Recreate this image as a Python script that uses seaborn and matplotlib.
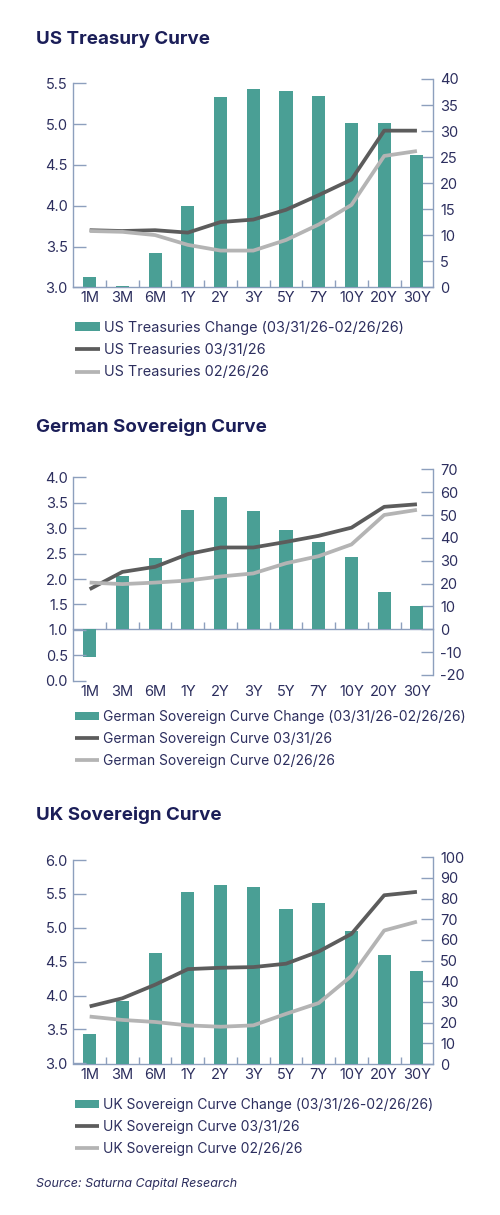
import numpy as np
import pandas as pd
import matplotlib
matplotlib.use("Agg")
import matplotlib.pyplot as plt
import seaborn as sns

# ---------------- data ----------------
tenors = ["1M", "3M", "6M", "1Y", "2Y", "3Y", "5Y", "7Y", "10Y", "20Y", "30Y"]

us_change = [2.0, 0.3, 6.6, 15.6, 36.6, 38.0, 37.6, 36.8, 31.5, 31.6, 25.5]
us_now = [3.70, 3.69, 3.70, 3.67, 3.80, 3.83, 3.95, 4.13, 4.32, 4.92, 4.92]
us_prev = [3.69, 3.68, 3.64, 3.52, 3.45, 3.45, 3.58, 3.77, 4.01, 4.61, 4.67]

de_change = [-12.3, 23.5, 31.2, 52.4, 57.9, 51.8, 43.3, 38.2, 31.5, 16.5, 10.4]
de_now = [1.80, 2.14, 2.24, 2.49, 2.62, 2.62, 2.73, 2.85, 3.01, 3.42, 3.47]
de_prev = [1.93, 1.90, 1.93, 1.97, 2.05, 2.11, 2.31, 2.45, 2.68, 3.26, 3.36]

uk_change = [14.5, 30.6, 53.7, 83.1, 86.6, 85.5, 75.2, 77.7, 64.4, 52.9, 44.8]
uk_now = [3.84, 3.96, 4.16, 4.39, 4.41, 4.42, 4.47, 4.65, 4.91, 5.48, 5.53]
uk_prev = [3.69, 3.64, 3.61, 3.56, 3.54, 3.56, 3.73, 3.89, 4.29, 4.96, 5.09]

titles = ["US Treasury Curve", "German Sovereign Curve", "UK Sovereign Curve"]
legend_labels = [
    ["US Treasuries Change (03/31/26-02/26/26)", "US Treasuries 03/31/26", "US Treasuries 02/26/26"],
    ["German Sovereign Curve Change (03/31/26-02/26/26)", "German Sovereign Curve 03/31/26",
     "German Sovereign Curve 02/26/26"],
    ["UK Sovereign Curve Change (03/31/26-02/26/26)", "UK Sovereign Curve 03/31/26",
     "UK Sovereign Curve 02/26/26"],
]
left_ticks = [np.arange(3.0, 5.51, 0.5), np.arange(0.0, 4.01, 0.5), np.arange(3.0, 6.01, 0.5)]
right_ticks = [np.arange(0, 41, 5), np.arange(-20, 71, 10), np.arange(0, 101, 10)]
source_text = "Source: Saturna Capital Research"

# ---------------- style ----------------
sns.set_theme(style="white")
plt.rcParams["font.family"] = ["Inter", "DejaVu Sans"]

TEAL = "#4a9f95"
DARK = "#5c5c5c"
LIGHT = "#b4b4b4"
SPINE = "#8d9fbd"
TEXT = "#2c2e5e"
TITLE = "#1b1e58"
TICK_FS = 10.5

W, H = 500, 1215
fig = plt.figure(figsize=(W / 100, H / 100), dpi=100)


def rect(x0, y0, x1, y1):
    return [x0 / W, 1 - y1 / H, (x1 - x0) / W, (y1 - y0) / H]


# per-chart layout (pixels): axes box, y-limits, title baseline, legend middle row
layouts = [
    dict(box=(73.3, 79.0, 433.3, 287.3), llim=(3.0, 5.553), rlim=(0, 40),
         lb=(3.0, 5.5), rb=(0, 40), title_y=44, leg_y=350, fs=10.4),
    dict(box=(73.3, 469.4, 433.3, 680.7), llim=(0.0, 4.156), rlim=(-22.5, 70),
         lb=(0.0, 4.0), rb=(-20, 70), title_y=432, leg_y=739, fs=10),
    dict(box=(73.3, 857.3, 433.3, 1064.0), llim=(2.99, 6.04), rlim=(0, 100),
         lb=(3.0, 6.0), rb=(0, 100), title_y=820, leg_y=1127, fs=10),
]
datasets = [(us_change, us_now, us_prev), (de_change, de_now, de_prev), (uk_change, uk_now, uk_prev)]

for i, (lay, (chg, now, prev)) in enumerate(zip(layouts, datasets)):
    df = pd.DataFrame({"tenor": tenors, "change": chg, "now": now, "prev": prev})
    axb = fig.add_axes(rect(*lay["box"]))
    sns.barplot(data=df, x="tenor", y="change", ax=axb, color=TEAL, width=0.4,
                saturation=1, edgecolor="none")
    axb.set_xlabel("")
    axb.set_ylabel("")

    axl = axb.twinx()
    sns.lineplot(data=df, x="tenor", y="now", ax=axl, color=DARK, lw=2.7,
                 sort=False, solid_capstyle="butt")
    sns.lineplot(data=df, x="tenor", y="prev", ax=axl, color=LIGHT, lw=2.7,
                 sort=False, solid_capstyle="butt")
    axl.set_ylabel("")
    axl.set_xlabel("")

    # right axis (bars)
    axb.set_ylim(*lay["rlim"])
    axb.set_yticks(right_ticks[i])
    axb.set_yticklabels([f"{int(v)}" for v in right_ticks[i]])
    axb.tick_params(axis="y", left=False, labelleft=False, right=True, labelright=True,
                    direction="in", length=9, width=1, color=SPINE,
                    labelcolor=TEXT, labelsize=TICK_FS, pad=5)
    # left axis (lines)
    axl.set_ylim(*lay["llim"])
    axl.set_yticks(left_ticks[i])
    axl.set_yticklabels([f"{v:.1f}" for v in left_ticks[i]])
    axl.tick_params(axis="y", left=True, labelleft=True, right=False, labelright=False,
                    direction="in", length=9, width=1, color=SPINE,
                    labelcolor=TEXT, labelsize=TICK_FS, pad=4)
    axb.tick_params(axis="x", length=0, labelcolor=TEXT, labelsize=TICK_FS, pad=3)
    axb.set_xlim(-0.5, len(tenors) - 0.5)

    # spines
    for s in ["top", "left", "bottom"]:
        axb.spines[s].set_visible(False)
    for s in ["top", "right", "bottom"]:
        axl.spines[s].set_visible(False)
    axb.spines["right"].set_visible(True)
    axb.spines["right"].set_color(SPINE)
    axb.spines["right"].set_linewidth(1.0)
    axb.spines["right"].set_bounds(*lay["rb"])
    axl.spines["left"].set_visible(True)
    axl.spines["left"].set_color(SPINE)
    axl.spines["left"].set_linewidth(1.0)
    axl.spines["left"].set_bounds(*lay["lb"])

    # zero line with category-boundary ticks
    r0, r1 = lay["rlim"]
    frac = (0 - r0) / (r1 - r0)
    sec = axb.secondary_xaxis(frac)
    sec.set_xticks(np.arange(len(tenors) - 1) + 0.5)
    sec.set_xticklabels([])
    sec.tick_params(axis="x", direction="in", length=5, width=1, color=SPINE)
    sec.spines["bottom"].set_color(SPINE)
    sec.spines["bottom"].set_linewidth(1.0)

    # title
    fig.text(36 / W, 1 - lay["title_y"] / H, titles[i], fontsize=13.5, fontweight="bold",
             color=TITLE, ha="left", va="baseline")

    # legend
    handles = [axb.patches[0], axl.lines[0], axl.lines[1]]
    leg = fig.legend(handles, legend_labels[i], loc="center left",
                     bbox_to_anchor=(75 / W, 1 - lay["leg_y"] / H), frameon=False,
                     fontsize=lay["fs"], handlelength=1.7, handleheight=0.6, handletextpad=0.3,
                     labelspacing=0.58, borderpad=0, borderaxespad=0)
    for t in leg.get_texts():
        t.set_color(TEXT)

fig.text(36 / W, 1 - 1187 / H, source_text, fontsize=9, fontstyle="italic",
         color=TEXT, ha="left", va="baseline")

fig.savefig("out.png", dpi=100)
